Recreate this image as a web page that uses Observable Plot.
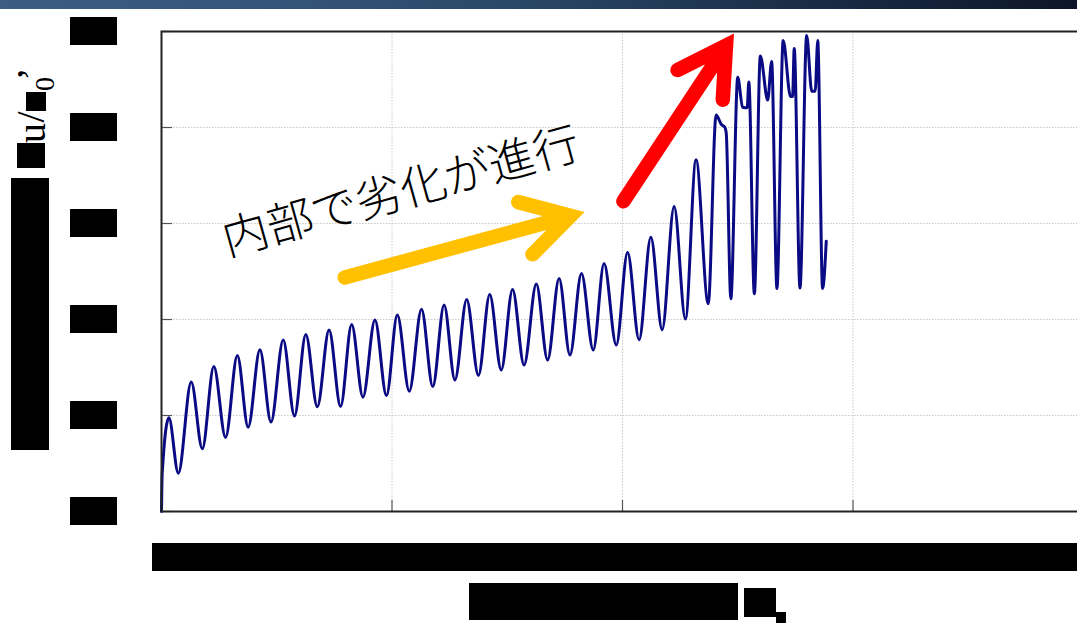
<!DOCTYPE html>
<html><head><meta charset="utf-8">
<script src="https://cdn.jsdelivr.net/npm/d3@7"></script>
<script src="https://cdn.jsdelivr.net/npm/@observablehq/plot@0.6"></script>
<style>
html,body{margin:0;padding:0;background:#fff;overflow:hidden;}
#wrap{position:relative;width:1077px;height:623px;overflow:hidden;background:#fff;}
#wrap svg{position:absolute;left:0;top:0;}
.banner{position:absolute;left:0;top:0;width:1077px;height:9px;z-index:5;
  background:linear-gradient(90deg,#3c5d82 0%,#35557a 25%,#284664 50%,#1a2c47 75%,#0d1628 100%);}
.box{position:absolute;background:#000;color:#000;font:12px sans-serif;overflow:hidden;z-index:4;}
.glyph{position:absolute;font-family:"Liberation Serif","Times New Roman",serif;color:#000;white-space:nowrap;line-height:1;z-index:4;
  transform:translate(-50%,-50%) rotate(-90deg);}
</style></head><body><div id="wrap"><div class="banner"></div></div>
<script>
// ---- data ----
const xTicks = [0, 1, 2, 3, 4];
const yTicks = [0, 1, 2, 3, 4, 5];
const xTickLabels = ["0", "1", "2", "3", "4"];
const yTickLabels = ["0", "1", "2", "3", "4", "5"];

const lineX = [0, 0.003, 0.032, 0.073, 0.129, 0.177, 0.227, 0.278, 0.329, 0.376, 0.427, 0.475, 0.528, 0.577, 0.626, 0.676, 0.727, 0.777, 0.825, 0.874, 0.926, 0.976, 1.023, 1.075, 1.128, 1.177, 1.226, 1.273, 1.324, 1.375, 1.424, 1.474, 1.523, 1.573, 1.626, 1.675, 1.725, 1.772, 1.822, 1.873, 1.920, 1.973, 2.022, 2.072, 2.123, 2.172, 2.224, 2.273, 2.319, 2.372, 2.406, 2.429, 2.444, 2.450, 2.470, 2.500, 2.521, 2.541, 2.548, 2.572, 2.598, 2.630, 2.647, 2.670, 2.697, 2.729, 2.738, 2.745, 2.770, 2.799, 2.821, 2.836, 2.847, 2.868, 2.884];
const lineY = [0, 0.393, 0.976, 0.399, 1.349, 0.653, 1.510, 0.771, 1.625, 0.878, 1.684, 0.932, 1.786, 0.995, 1.844, 1.091, 1.891, 1.094, 1.948, 1.191, 1.995, 1.208, 2.047, 1.253, 2.106, 1.302, 2.151, 1.370, 2.208, 1.417, 2.260, 1.474, 2.313, 1.526, 2.370, 1.578, 2.427, 1.630, 2.479, 1.682, 2.583, 1.734, 2.698, 1.789, 2.857, 1.893, 3.177, 2.005, 3.664, 2.164, 4.130, 4.031, 4.003, 3.943, 2.216, 4.524, 4.211, 4.205, 4.474, 2.268, 4.745, 4.286, 4.688, 2.323, 4.906, 4.323, 4.323, 4.823, 2.328, 4.958, 4.378, 4.378, 4.906, 2.323, 2.816];

const noteText = ["内部で劣化が進行"];
const noteX = [1.04];
const noteY = [3.32];

const arrowNames = ["yellow", "red"];
const arrowX1 = [0.795, 2.004];
const arrowY1 = [2.438, 3.232];
const arrowX2 = [1.775, 2.449];
const arrowY2 = [3.079, 4.852];
const arrowColors = ["#FFC000", "#FF0000"];

// ---- build ----
const data = lineX.map((x, i) => ({x, y: lineY[i]}));
const notes = noteText.map((t, i) => ({t, x: noteX[i], y: noteY[i]}));
const arrows = arrowNames.map((n, i) => ({n, x1: arrowX1[i], y1: arrowY1[i], x2: arrowX2[i], y2: arrowY2[i], c: arrowColors[i]}));

const chart = Plot.plot({
  width: 1077, height: 623,
  marginLeft: 161, marginRight: -6, marginTop: 31, marginBottom: 112,
  x: {domain: [0, 4], axis: null},
  y: {domain: [0, 5], axis: null},
  style: {background: "transparent", overflow: "visible"},
  marks: [
    Plot.gridX(xTicks, {stroke: "#c8c8c8", strokeOpacity: 1, strokeWidth: 1, strokeDasharray: "1.5,1.5"}),
    Plot.gridY(yTicks, {stroke: "#c8c8c8", strokeOpacity: 1, strokeWidth: 1, strokeDasharray: "1.5,1.5"}),
    Plot.ruleY(yTicks, {x1: 0, x2: 0.048, stroke: "#555", strokeWidth: 1.2}),
    Plot.ruleX(xTicks, {y1: 0, y2: 0.115, stroke: "#555", strokeWidth: 1.2}),
    Plot.line(data, {x: "x", y: "y", stroke: "#0a0a84", strokeWidth: 3, curve: "monotone-x"}),
    Plot.frame({stroke: "#222", strokeWidth: 2}),
    Plot.text(notes, {x: "x", y: "y", text: "t", rotate: -15.5, fontSize: 46, fill: "#000",
      fontFamily: "'Noto Sans CJK JP', sans-serif", fontWeight: 300, textAnchor: "middle", lineAnchor: "middle"}),
    Plot.arrow(arrows, {x1: "x1", y1: "y1", x2: "x2", y2: "y2", stroke: d => d.c, strokeWidth: 14.5,
      headLength: 5.6, headAngle: 60, strokeLinecap: "round", strokeLinejoin: "miter", strokeMiterlimit: 4})
  ]
});
const wrap = document.getElementById("wrap");
wrap.appendChild(chart);

const sx = chart.scale("x"), sy = chart.scale("y");
function addBox(l, t, w, h, txt) {
  const d = document.createElement("div");
  d.className = "box";
  d.style.left = l + "px"; d.style.top = t + "px";
  d.style.width = w + "px"; d.style.height = h + "px";
  d.textContent = txt || "";
  wrap.appendChild(d);
}
function addGlyph(cx, cy, size, txt) {
  const s = document.createElement("span");
  s.className = "glyph";
  s.style.left = cx + "px"; s.style.top = cy + "px";
  s.style.fontSize = size + "px";
  s.textContent = txt;
  wrap.appendChild(s);
}
// redacted y tick labels
yTicks.forEach((t, i) => addBox(sx.apply(0) - 91, sy.apply(t) - 14, 47, 28, yTickLabels[i]));
// redacted x tick labels (one bar)
addBox(sx.apply(0) - 9, sy.apply(0) + 32, 1077 - sx.apply(0) + 20, 28, xTickLabels.join("   "));
// redacted x axis title
addBox(469, 583, 269, 37, "");
addBox(744, 588, 32, 29, "");
addBox(776, 612, 10, 11, "");
// y axis title (rotated, partly redacted)
addBox(11, 178, 38, 272, "");
addBox(17, 143, 28, 25, "");
addGlyph(31.5, 132.5, 40, "u");
addGlyph(30.5, 117, 40, "/");
addBox(26, 92, 20, 19, "");
addGlyph(45, 84, 28, "0");
addGlyph(31, 73.5, 40, "\u2019");
</script></body></html>
